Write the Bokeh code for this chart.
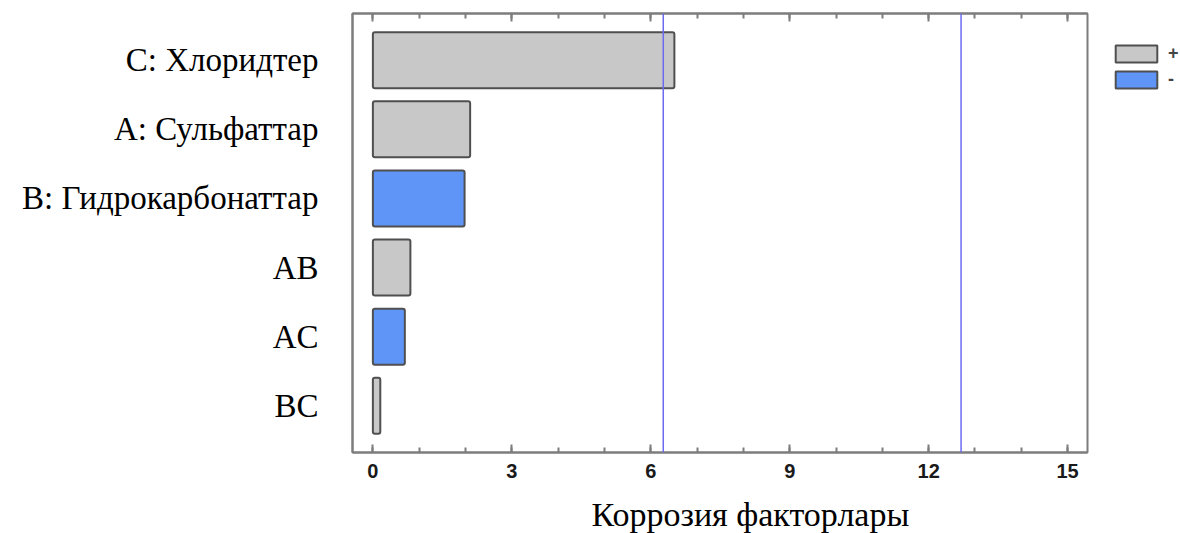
from bokeh.plotting import figure
from bokeh.models import (ColumnDataSource, FactorRange, Span, SingleIntervalTicker,
                          LinearAxis, Title, Range1d, CustomJSTickFormatter)
from bokeh.embed import file_html
from bokeh.resources import INLINE

# ---- data (top to bottom as shown) ----
factors = ["C: Хлоридтер", "A: Сульфаттар", "B: Гидрокарбонаттар", "AB", "AC", "BC"]
effects = [6.51, 2.10, 1.98, 0.81, 0.69, 0.16]
signs = ["+", "+", "-", "+", "-", "+"]
critical_values = [6.27, 12.70]
x_ticks_interval = 3
x_title = "Коррозия факторлары"

sign_colors = {"+": "#c8c8c8", "-": "#5e95f7"}

src = ColumnDataSource(dict(
    factor=factors,
    effect=effects,
    sign=signs,
    color=[sign_colors[s] for s in signs],
))

y_range = FactorRange(factors=list(reversed(factors)),
                      range_padding=0.175, range_padding_units="absolute")

p = figure(frame_width=735, frame_height=439, y_range=y_range,
           x_range=Range1d(-0.44, 15.43),
           output_backend="svg", toolbar_location=None,
           min_border_left=352, min_border_right=85,
           min_border_top=13, min_border_bottom=10)

p.hbar(y="factor", right="effect", left=0, height=0.81, source=src,
       fill_color="color", line_color="#4f4f4f", line_width=2,
       border_radius=2, legend_group="sign")

for cv in critical_values:
    p.add_layout(Span(location=cv, dimension="height",
                      line_color="#6b6bf2", line_width=1.5))

frame_col = "#7d7d7d"
p.outline_line_color = frame_col
p.outline_line_width = 2
p.xgrid.visible = False
p.ygrid.visible = False
p.background_fill_color = "white"
p.border_fill_color = "white"

# bottom axis
xa = p.xaxis[0]
xa.ticker = SingleIntervalTicker(interval=x_ticks_interval, num_minor_ticks=3)
xa.axis_line_color = frame_col
xa.axis_line_width = 2
xa.major_tick_in = 8
xa.major_tick_out = 0
xa.minor_tick_in = 5
xa.minor_tick_out = 0
xa.major_tick_line_color = frame_col
xa.minor_tick_line_color = frame_col
xa.major_tick_line_width = 2
xa.minor_tick_line_width = 2
xa.major_label_standoff = 11
xa.major_label_text_font = "Liberation Sans"
xa.major_label_text_font_style = "bold"
xa.major_label_text_font_size = "20px"
xa.major_label_text_color = "#1a1a1a"

# top axis with ticks only
ta = LinearAxis(ticker=SingleIntervalTicker(interval=x_ticks_interval, num_minor_ticks=3),
                formatter=CustomJSTickFormatter(code="return ''"))
ta.axis_line_color = frame_col
ta.axis_line_width = 2
ta.major_tick_in = 8
ta.major_tick_out = 0
ta.minor_tick_in = 5
ta.minor_tick_out = 0
ta.major_tick_line_color = frame_col
ta.minor_tick_line_color = frame_col
ta.major_tick_line_width = 2
ta.minor_tick_line_width = 2
ta.major_label_standoff = 0
p.add_layout(ta, "above")

# left axis
ya = p.yaxis[0]
ya.axis_line_color = frame_col
ya.axis_line_width = 2
ya.major_tick_line_color = None
ya.minor_tick_line_color = None
ya.major_tick_in = 0
ya.major_tick_out = 0
ya.major_label_standoff = 34
ya.major_label_text_font = "Liberation Serif"
ya.major_label_text_font_size = "33px"
ya.major_label_text_color = "black"

# x title
p.add_layout(Title(text=x_title, align="left", offset=239, standoff=26,
                   text_font="Liberation Serif", text_font_size="34px",
                   text_font_style="normal", text_color="black"), "below")

# legend to the right of the frame
leg = p.legend[0]
p.center.remove(leg)
leg.glyph_width = 52
leg.glyph_height = 21
leg.label_text_font = "Liberation Sans"
leg.label_text_font_style = "bold"
leg.label_text_font_size = "18px"
leg.border_line_color = None
leg.background_fill_alpha = 0
leg.spacing = 5
leg.padding = 0
leg.margin = 0
leg.label_standoff = 6
leg.label_height = 21
leg.location = (23, 362)
p.add_layout(leg, "right")

open("out.html", "w").write(file_html(p, INLINE))
